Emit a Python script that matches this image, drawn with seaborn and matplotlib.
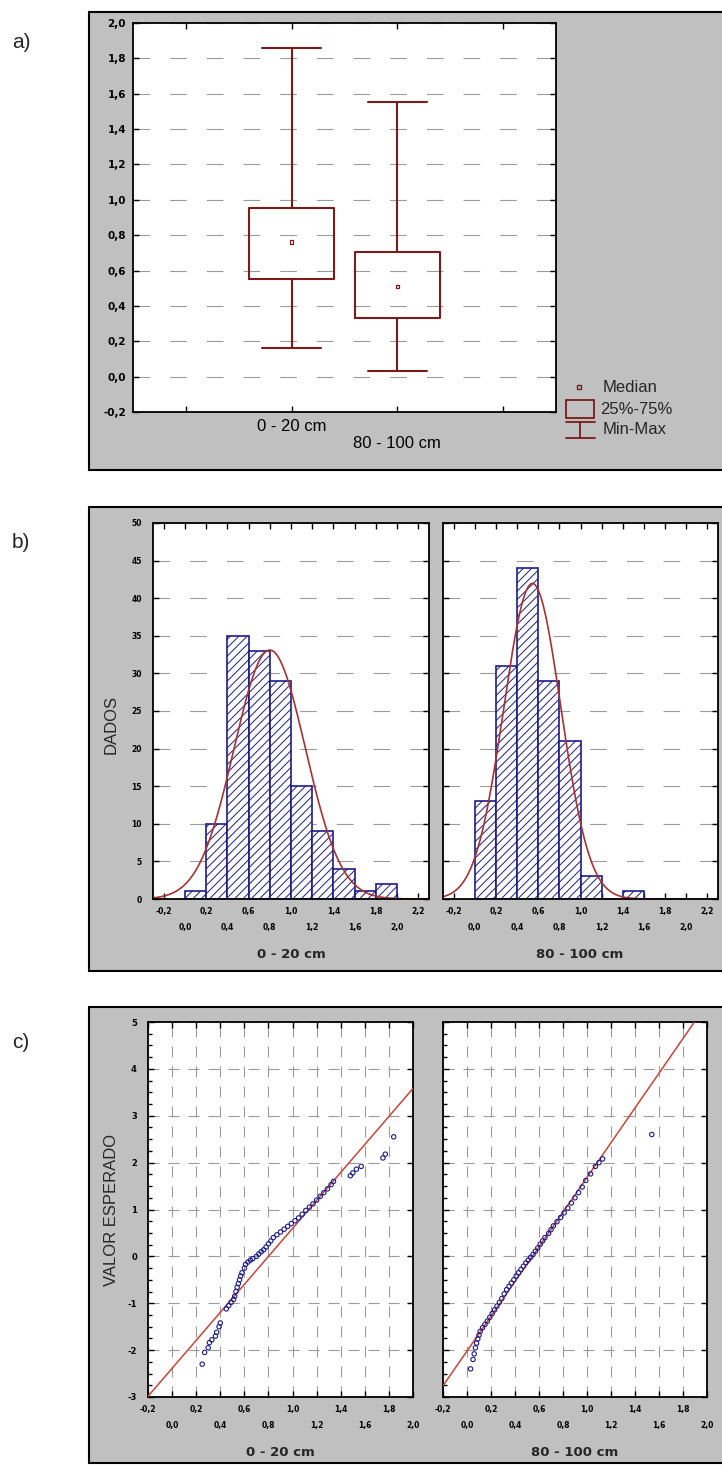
import numpy as np
import pandas as pd
import matplotlib
matplotlib.use("Agg")
import matplotlib.pyplot as plt
from matplotlib.patches import Rectangle
from matplotlib.ticker import MultipleLocator
import seaborn as sns

sns.set_style("ticks")
plt.rcParams["font.family"] = ["Liberation Sans", "DejaVu Sans"]
plt.rcParams["hatch.linewidth"] = 0.7

W, H = 722, 1466

DEPTHS = ["0 - 20 cm", "80 - 100 cm"]

# a) box plot: min, 25%, median, 75%, max
BOX_MIN = [0.16, 0.03]
BOX_Q1 = [0.55, 0.33]
BOX_MED = [0.76, 0.51]
BOX_Q3 = [0.955, 0.705]
BOX_MAX = [1.86, 1.555]

# b) histograms (classes of 0,2)
BIN_EDGES = [0.0, 0.2, 0.4, 0.6, 0.8, 1.0, 1.2, 1.4, 1.6, 1.8, 2.0]
COUNT_0_20 = [1, 10, 35, 33, 29, 15, 9, 4, 1, 2]
COUNT_80_100 = [13, 31, 44, 29, 21, 3, 0, 1, 0, 0]

# fitted normal (mean, sd)
FIT_0_20 = (0.80, 0.335)
FIT_80_100 = (0.545, 0.27)

# c) normal probability plot: observed value vs expected normal value
QQ_OBS_0_20 = [0.25, 0.27, 0.30, 0.31, 0.33, 0.36, 0.37, 0.39, 0.40,
               0.45, 0.47, 0.49, 0.51, 0.52, 0.53, 0.54, 0.55, 0.56, 0.57, 0.58,
               0.60, 0.61, 0.63, 0.65, 0.67, 0.70, 0.72, 0.74, 0.76, 0.78,
               0.80, 0.82, 0.84, 0.87, 0.90, 0.93, 0.96, 0.99, 1.02, 1.05,
               1.08, 1.11, 1.14, 1.17, 1.20, 1.23, 1.26, 1.29, 1.32, 1.34,
               1.48, 1.50, 1.53, 1.57, 1.75, 1.77, 1.84]
QQ_EXP_0_20 = [-2.30, -2.05, -1.95, -1.84, -1.78, -1.70, -1.62, -1.50, -1.42,
               -1.12, -1.05, -0.98, -0.92, -0.85, -0.75, -0.66, -0.58, -0.50, -0.42, -0.35,
               -0.25, -0.17, -0.12, -0.08, -0.05, 0.00, 0.05, 0.10, 0.14, 0.20,
               0.27, 0.33, 0.40, 0.46, 0.52, 0.58, 0.64, 0.70, 0.76, 0.82,
               0.90, 0.98, 1.05, 1.12, 1.20, 1.28, 1.36, 1.44, 1.53, 1.60,
               1.72, 1.78, 1.86, 1.92, 2.10, 2.18, 2.55]
QQ_OBS_80_100 = [0.03, 0.05, 0.06, 0.07, 0.08, 0.09, 0.10, 0.11, 0.13, 0.15,
                 0.17, 0.19, 0.21, 0.23, 0.25, 0.27, 0.29, 0.31, 0.33, 0.35,
                 0.37, 0.39, 0.41, 0.43, 0.45, 0.47, 0.49, 0.51, 0.53, 0.55,
                 0.57, 0.59, 0.61, 0.63, 0.65, 0.68, 0.70, 0.72, 0.75, 0.78,
                 0.81, 0.84, 0.87, 0.90, 0.93, 0.96, 0.99, 1.03, 1.07, 1.10,
                 1.13, 1.54]
QQ_EXP_80_100 = [-2.40, -2.20, -2.08, -1.95, -1.85, -1.76, -1.68, -1.60, -1.52, -1.45,
                 -1.38, -1.30, -1.22, -1.14, -1.06, -0.98, -0.90, -0.80, -0.71, -0.64,
                 -0.57, -0.50, -0.42, -0.35, -0.28, -0.21, -0.14, -0.08, -0.02, 0.04,
                 0.11, 0.18, 0.26, 0.33, 0.40, 0.49, 0.57, 0.65, 0.74, 0.83,
                 0.93, 1.03, 1.14, 1.25, 1.36, 1.48, 1.62, 1.76, 1.92, 2.00,
                 2.08, 2.60]

MAROON = "#7a1c1c"
NAVY = "#1c1c8a"
CURVE = "#a83232"
LINE = "#cc4438"
GRID = "#9c9c9c"
PANEL = "#c0c0c0"
TICKFONT = dict(fontweight="bold", family="DejaVu Sans")


def dec(v):
    s = f"{v:.1f}".replace(".", ",")
    return "0,0" if s == "-0,0" else s


fig = plt.figure(figsize=(W / 100, H / 100), dpi=100)

bg = fig.add_axes([0, 0, 1, 1])
bg.set_xlim(0, W)
bg.set_ylim(H, 0)
bg.axis("off")
bg.set_zorder(-1)

for top, bot in [(12, 470), (507, 971), (1007, 1463)]:
    bg.add_patch(Rectangle((89, top), 645, bot - top, fc=PANEL, ec="black", lw=1.5))
for lab, y in [("a)", 42), ("b)", 543), ("c)", 1043)]:
    bg.text(12, y, lab, fontsize=15, va="center", ha="left")


def px_axes(l, t, r, b):
    ax = fig.add_axes([l / W, 1 - b / H, (r - l) / W, (b - t) / H])
    ax.set_facecolor("white")
    return ax


def frame(ax):
    for s in ax.spines.values():
        s.set_visible(True)
        s.set_color("black")
        s.set_linewidth(1.3)
    ax.tick_params(which="both", direction="in", top=True, right=True,
                   length=4, width=1, colors="black")
    ax.set_xlabel("")
    ax.set_ylabel("")


def two_row_xticks(ax, start, stop, fs):
    vals = np.round(np.arange(start, stop + 0.001, 0.2), 1)
    row1, row2 = vals[::2], vals[1::2]
    ax.set_xticks(row1, [dec(v) for v in row1], fontsize=fs, **TICKFONT)
    ax.set_xticks(row2, [dec(v) for v in row2], minor=True, fontsize=fs, **TICKFONT)
    ax.xaxis.set_tick_params(which="major", pad=6)
    ax.xaxis.set_tick_params(which="minor", pad=17, length=4)


# ---------- a) box plot ----------
ax = px_axes(133, 23, 556, 412)
box_df = pd.DataFrame({
    "pos": np.repeat([0, 1], 5),
    "value": np.ravel(np.column_stack([BOX_MIN, BOX_Q1, BOX_MED, BOX_Q3, BOX_MAX])),
})
sns.boxplot(data=box_df, x="pos", y="value", native_scale=True, whis=(0, 100),
            width=0.8, fill=False, color=MAROON, linewidth=1.5,
            medianprops={"visible": False}, capwidths=0.56, ax=ax)
sns.scatterplot(x=[0, 1], y=BOX_MED, marker="s", s=7, facecolors="none",
                edgecolor=MAROON, color=MAROON, linewidth=0.9, ax=ax, zorder=5)
ax.set_xlim(-1.5, 2.5)
ax.set_ylim(-0.2, 2.0)
frame(ax)
yt = np.round(np.arange(-0.2, 2.01, 0.2), 1)
ax.set_yticks(yt, [dec(v) for v in yt], fontsize=7.5, **TICKFONT)
ax.set_xticks([-1, 0, 1, 2], ["", DEPTHS[0], "\n" + DEPTHS[1], ""], fontsize=12)
ax.yaxis.set_tick_params(pad=5)
ax.xaxis.set_tick_params(pad=5)
ax.yaxis.grid(True, ls=(0, (15, 18)), color=GRID, lw=0.8)
ax.xaxis.grid(False)

# legend of panel a
bg.plot(579, 387, marker="s", ms=3.5, mfc="none", mec=MAROON, mew=1)
bg.text(603, 387, "Median", fontsize=12, va="center")
bg.add_patch(Rectangle((566, 400), 28, 18, fc="none", ec=MAROON, lw=1.3))
bg.text(600, 409, "25%-75%", fontsize=12, va="center")
bg.plot([566, 595], [422, 422], color=MAROON, lw=1.3)
bg.plot([580, 580], [422, 438], color=MAROON, lw=1.3)
bg.plot([566, 595], [438, 438], color=MAROON, lw=1.3)
bg.text(603, 430, "Min-Max", fontsize=12, va="center")


# ---------- b) histograms ----------
def hist_panel(l, r, counts, fit, ylabels):
    ax = px_axes(l, 523, r, 899)
    mids = [(a + b) / 2 for a, b in zip(BIN_EDGES[:-1], BIN_EDGES[1:])]
    sns.histplot(x=mids, weights=counts, bins=BIN_EDGES, ax=ax, color="white",
                 edgecolor=NAVY, linewidth=1.2, alpha=1)
    for p in ax.patches:
        p.set_hatch("////")
    m, sd = fit
    xs = np.linspace(-0.3, 2.3, 400)
    ys = sum(counts) * 0.2 * np.exp(-(xs - m) ** 2 / (2 * sd ** 2)) / (sd * np.sqrt(2 * np.pi))
    sns.lineplot(x=xs, y=ys, color=CURVE, lw=1.2, ax=ax)
    ax.set_xlim(-0.3, 2.3)
    ax.set_ylim(0, 50)
    frame(ax)
    yt = np.arange(0, 51, 5)
    ax.set_yticks(yt, [str(v) if ylabels else "" for v in yt], fontsize=5.5, **TICKFONT)
    ax.yaxis.set_tick_params(pad=8)
    two_row_xticks(ax, -0.2, 2.2, 5.5)
    ax.yaxis.grid(True, ls=(0, (15, 18)), color=GRID, lw=0.8)
    ax.xaxis.grid(False)
    return ax


hist_panel(153, 429, COUNT_0_20, FIT_0_20, True)
hist_panel(443, 718, COUNT_80_100, FIT_80_100, False)
bg.text(291, 955, DEPTHS[0], fontsize=9.5, ha="center", va="center", **TICKFONT)
bg.text(580, 955, DEPTHS[1], fontsize=9.5, ha="center", va="center", **TICKFONT)
bg.text(111, 725, "DADOS", fontsize=12, rotation=90, ha="center", va="center")


# ---------- c) normal probability plots ----------
def qq_panel(l, r, obs, exp, fit, ylabels):
    ax = px_axes(l, 1022, r, 1397)
    sns.scatterplot(x=obs, y=exp, marker="o", s=10, facecolors="none",
                    edgecolor=NAVY, color=NAVY, linewidth=0.8, ax=ax, zorder=4)
    m, sd = fit
    xs = np.array([-0.2, 2.0])
    sns.lineplot(x=xs, y=(xs - m) / sd, color=LINE, lw=1.1, ax=ax, zorder=3)
    ax.set_xlim(-0.2, 2.0)
    ax.set_ylim(-3, 5)
    frame(ax)
    yt = np.arange(-3, 6, 1)
    ax.set_yticks(yt, [str(v) if ylabels else "" for v in yt], fontsize=6, **TICKFONT)
    ax.yaxis.set_minor_locator(MultipleLocator(0.25))
    ax.yaxis.set_tick_params(which="minor", left=True, right=False, length=3)
    ax.yaxis.set_tick_params(which="major", pad=8)
    two_row_xticks(ax, -0.2, 2.0, 5.5)
    ax.xaxis.grid(True, which="both", ls=(0, (10, 8)), color=GRID, lw=0.8)
    ax.yaxis.grid(True, which="major", ls=(0, (10, 8)), color=GRID, lw=0.8)
    return ax


qq_panel(148, 413, QQ_OBS_0_20, QQ_EXP_0_20, FIT_0_20, True)
qq_panel(443, 707, QQ_OBS_80_100, QQ_EXP_80_100, FIT_80_100, False)
bg.text(280, 1453, DEPTHS[0], fontsize=9.5, ha="center", va="center", **TICKFONT)
bg.text(575, 1453, DEPTHS[1], fontsize=9.5, ha="center", va="center", **TICKFONT)
bg.text(111, 1210, "VALOR ESPERADO", fontsize=12, rotation=90, ha="center", va="center")

fig.savefig("out.png", dpi=100)
